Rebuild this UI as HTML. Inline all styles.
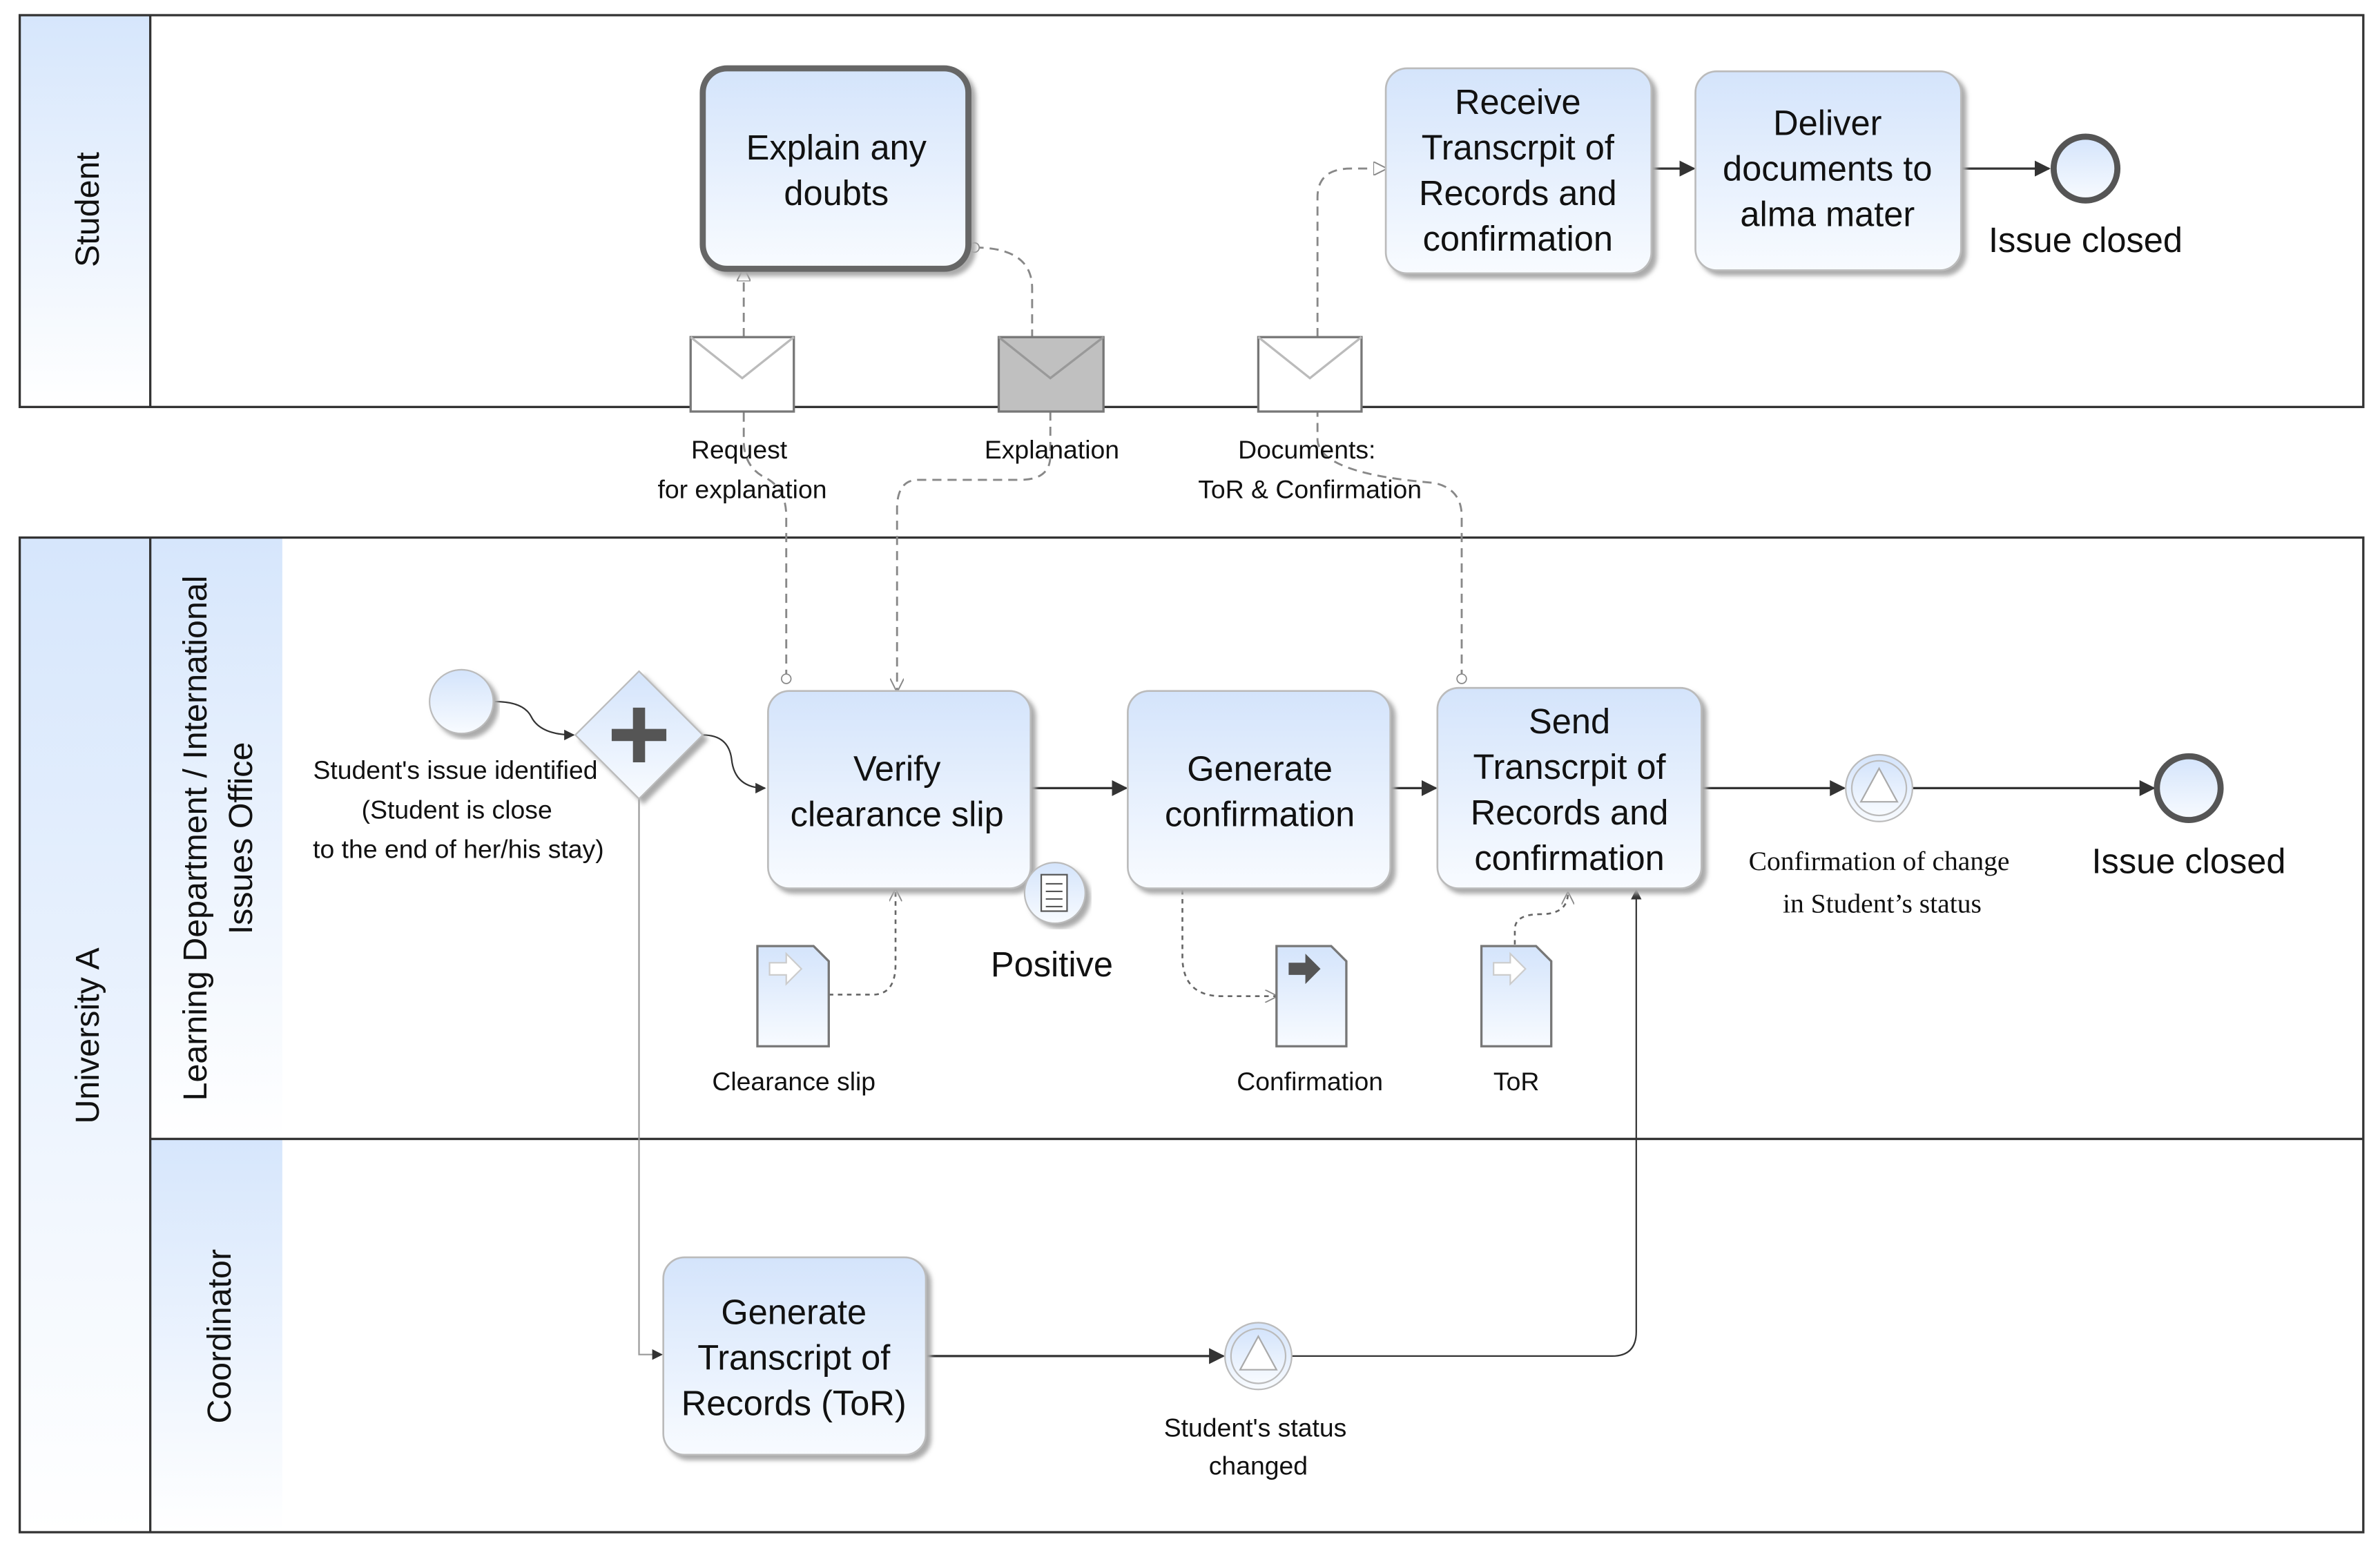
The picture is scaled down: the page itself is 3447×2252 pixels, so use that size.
<!DOCTYPE html>
<html><head><meta charset="utf-8"><style>
html,body{margin:0;padding:0;background:#fff}
svg{display:block}
text{font-family:"Liberation Sans",sans-serif;fill:#111}
text.serif{font-family:"Liberation Serif",serif}
</style></head><body>
<svg width="3447" height="2252" viewBox="0 0 1568 1024" preserveAspectRatio="none" xmlns="http://www.w3.org/2000/svg">
<defs>
<linearGradient id="lg" x1="0" y1="0" x2="0" y2="1"><stop offset="0" stop-color="#d4e4fb"/><stop offset="1" stop-color="#f8fbff"/></linearGradient>
<linearGradient id="lh" x1="0" y1="0" x2="0" y2="1"><stop offset="0" stop-color="#d6e6fc"/><stop offset="1" stop-color="#ffffff"/></linearGradient>
<marker id="a" viewBox="0 0 10 10" refX="9" refY="5" markerWidth="7" markerHeight="7" orient="auto"><path d="M0,0L10,5L0,10z" fill="#333"/></marker>
<marker id="o" viewBox="0 0 10 10" refX="9" refY="5" markerWidth="7" markerHeight="7" orient="auto"><path d="M0,0L10,5L0,10z" fill="#fff" stroke="#888"/></marker>
<marker id="v" viewBox="0 0 10 10" refX="9" refY="5" markerWidth="7" markerHeight="7" orient="auto"><path d="M0,0L10,5L0,10" fill="none" stroke="#888"/></marker>
<marker id="c" viewBox="0 0 10 10" refX="5" refY="5" markerWidth="6" markerHeight="6"><circle cx="5" cy="5" r="4" fill="#fff" stroke="#888" stroke-dasharray="none"/></marker>
<filter id="sh"><feDropShadow dx="3" dy="3" stdDeviation="1.5" flood-color="#aaa"/></filter>
</defs>
<rect x="13" y="10" width="86" height="258" fill="url(#lh)"/>
<rect x="13" y="10" width="1544" height="258" fill="none" stroke="#333" stroke-width="1.5"/>
<line x1="99" y1="10" x2="99" y2="268" stroke="#333" stroke-width="1.5"/>
<rect x="13" y="354" width="86" height="655" fill="url(#lh)"/>
<rect x="99" y="354" width="87" height="396" fill="url(#lh)"/>
<rect x="99" y="750" width="87" height="259" fill="url(#lh)"/>
<rect x="13" y="354" width="1544" height="655" fill="none" stroke="#333" stroke-width="1.5"/>
<line x1="99" y1="354" x2="99" y2="1009" stroke="#333" stroke-width="1.5"/>
<line x1="99" y1="750" x2="1557" y2="750" stroke="#333" stroke-width="1.5"/>
<text transform="translate(65,138) rotate(-90)" text-anchor="middle" font-size="22">Student</text>
<text transform="translate(65,682) rotate(-90)" text-anchor="middle" font-size="22">University A</text>
<text transform="translate(136,552) rotate(-90)" text-anchor="middle" font-size="22">Learning Department / International</text>
<text transform="translate(166,552) rotate(-90)" text-anchor="middle" font-size="22">Issues Office</text>
<text transform="translate(152,880) rotate(-90)" text-anchor="middle" font-size="22">Coordinator</text>

<g fill="none" stroke="#888" stroke-width="1.3" stroke-dasharray="6,4">
<path d="M518,447 V340 Q518,322 505,315 Q490,308 490,290 V271" marker-start="url(#c)"/>
<path d="M490,222 V177" marker-end="url(#o)"/>
<path d="M642,163 Q680,163 680,190 V222" marker-start="url(#c)"/>
<path d="M692,271 V300 Q692,316 672,316 H605 Q591,316 591,335 V455" marker-end="url(#v)"/>
<path d="M963,447 V340 Q963,322 945,318 Q870,312 868,290 V271" marker-start="url(#c)"/>
<path d="M868,222 V130 Q868,111 890,111 H913" marker-end="url(#o)"/>
</g>
<g fill="none" stroke="#666" stroke-width="1.2" stroke-dasharray="3,3">
<path d="M546,655 H575 Q590,655 590,635 V586" marker-end="url(#v)"/>
<path d="M779,586 V630 Q779,656 805,656 H841" marker-end="url(#v)"/>
<path d="M998,622 V612 Q998,602 1015,602 Q1033,602 1033,588" marker-end="url(#v)"/>
</g>
<g fill="none" stroke="#333" stroke-width="1.5">
<path d="M326,462 Q345,462 350,472 Q356,484 378,484" stroke-width="1" marker-end="url(#a)"/>
<path d="M463,484 Q480,484 482,500 Q484,519 504,519" stroke-width="1" marker-end="url(#a)"/>
<path d="M421,526 V892 H436" stroke="#999" stroke-width="1" marker-end="url(#a)"/>
<path d="M679,519 H742" marker-end="url(#a)"/>
<path d="M916,519 H946" marker-end="url(#a)"/>
<path d="M1121,519 H1215" marker-end="url(#a)"/>
<path d="M1260,519 H1419" marker-end="url(#a)"/>
<path d="M610,893 H806" marker-end="url(#a)"/>
<path d="M851,893 H1062 Q1078,893 1078,877 V586" stroke-width="1" marker-end="url(#a)"/>
<path d="M1088,111 H1116" marker-end="url(#a)"/>
<path d="M1292,111 H1350" marker-end="url(#a)"/>
</g>

<g stroke="#777" stroke-width="1.5">
<rect x="455" y="222" width="68" height="49" fill="#fff"/><path d="M455,222 L489,249 L523,222" fill="none" stroke="#bbb"/>
<rect x="658" y="222" width="69" height="49" fill="#c0c0c0"/><path d="M658,222 L692,249 L727,222" fill="none" stroke="#999"/>
<rect x="829" y="222" width="68" height="49" fill="#fff"/><path d="M829,222 L863,249 L897,222" fill="none" stroke="#bbb"/>
</g>
<g font-size="17" text-anchor="middle">
<text x="487" y="302">Request</text><text x="489" y="328">for explanation</text>
<text x="693" y="302">Explanation</text>
<text x="861" y="302">Documents:</text><text x="863" y="328">ToR &amp; Confirmation</text>
</g>

<g filter="url(#sh)" stroke="#bbb" stroke-width="1.2" fill="url(#lg)">
<rect x="463" y="45" width="175" height="132" rx="16" stroke="#666" stroke-width="4"/>
<rect x="913" y="45" width="175" height="135" rx="14"/>
<rect x="1117" y="47" width="175" height="131" rx="14"/>
<rect x="506" y="455" width="173" height="130" rx="14"/>
<rect x="743" y="455" width="173" height="130" rx="14"/>
<rect x="947" y="453" width="174" height="132" rx="14"/>
<rect x="437" y="828" width="173" height="130" rx="14"/>
</g>
<g font-size="23" text-anchor="middle">
<text x="551" y="105">Explain any</text><text x="551" y="135">doubts</text>
<text x="1000" y="75">Receive</text><text x="1000" y="105">Transcrpit of</text><text x="1000" y="135">Records and</text><text x="1000" y="165">confirmation</text>
<text x="1204" y="89">Deliver</text><text x="1204" y="119">documents to</text><text x="1204" y="149">alma mater</text>
<text x="591" y="514">Verify</text><text x="591" y="544">clearance slip</text>
<text x="830" y="514">Generate</text><text x="830" y="544">confirmation</text>
<text x="1034" y="483">Send</text><text x="1034" y="513">Transcrpit of</text><text x="1034" y="543">Records and</text><text x="1034" y="573">confirmation</text>
<text x="523" y="872">Generate</text><text x="523" y="902">Transcript of</text><text x="523" y="932">Records (ToR)</text>
</g>

<circle cx="304" cy="462" r="21" fill="url(#lg)" stroke="#bbb" filter="url(#sh)"/>
<circle cx="1374" cy="111" r="21" fill="url(#lg)" stroke="#555" stroke-width="4"/>
<circle cx="1442" cy="519" r="21" fill="url(#lg)" stroke="#555" stroke-width="4"/>
<g stroke="#bbb" fill="url(#lg)"><circle cx="1238" cy="519" r="22"/><circle cx="1238" cy="519" r="18"/>
<circle cx="829" cy="893" r="22"/><circle cx="829" cy="893" r="18"/></g>
<path d="M1238,506 L1250,528 H1226z" fill="#fff" stroke="#aaa"/>
<path d="M829,880 L841,902 H817z" fill="#fff" stroke="#aaa"/>
<text x="1374" y="166" font-size="23" text-anchor="middle">Issue closed</text>
<text x="1442" y="575" font-size="23" text-anchor="middle">Issue closed</text>
<text class="serif" x="1238" y="573" font-size="18" text-anchor="middle">Confirmation of change</text>
<text class="serif" x="1240" y="601" font-size="18" text-anchor="middle">in Student’s status</text>
<g font-size="17" text-anchor="middle">
<text x="300" y="513">Student's issue identified</text><text x="301" y="539">(Student is close</text><text x="302" y="565">to the end of her/his stay)</text>
<text x="827" y="946">Student's status</text><text x="829" y="971">changed</text>
<text x="523" y="718">Clearance slip</text><text x="863" y="718">Confirmation</text><text x="999" y="718">ToR</text>
</g>

<path d="M421,442 L463,484 L421,526 L379,484z" fill="url(#lg)" stroke="#bbb" filter="url(#sh)"/>
<rect x="417" y="466" width="8" height="36" fill="#555"/><rect x="403" y="480" width="36" height="8" fill="#555"/>

<circle cx="695" cy="588" r="20" fill="url(#lg)" stroke="#bbb" filter="url(#sh)"/>
<rect x="686" y="576" width="17" height="24" fill="#fff" stroke="#555"/>
<path d="M689,582H700M689,587H700M689,592H700M689,597H700" stroke="#555"/>
<text x="693" y="643" font-size="23" text-anchor="middle">Positive</text>

<g stroke="#777" stroke-width="1.5" fill="url(#lg)">
<path d="M499,623 H536 L546,633 V689 H499z"/>
<path d="M841,623 H877 L887,633 V689 H841z"/>
<path d="M976,623 H1012 L1022,633 V689 H976z"/>
</g>
<path d="M507,634 H518 V628 L528,638 L518,648 V642 H507z" fill="#fff" stroke="#ccc"/>
<path d="M849,634 H860 V628 L870,638 L860,648 V642 H849z" fill="#555"/>
<path d="M984,634 H995 V628 L1005,638 L995,648 V642 H984z" fill="#fff" stroke="#ccc"/>
</svg>
</body></html>
